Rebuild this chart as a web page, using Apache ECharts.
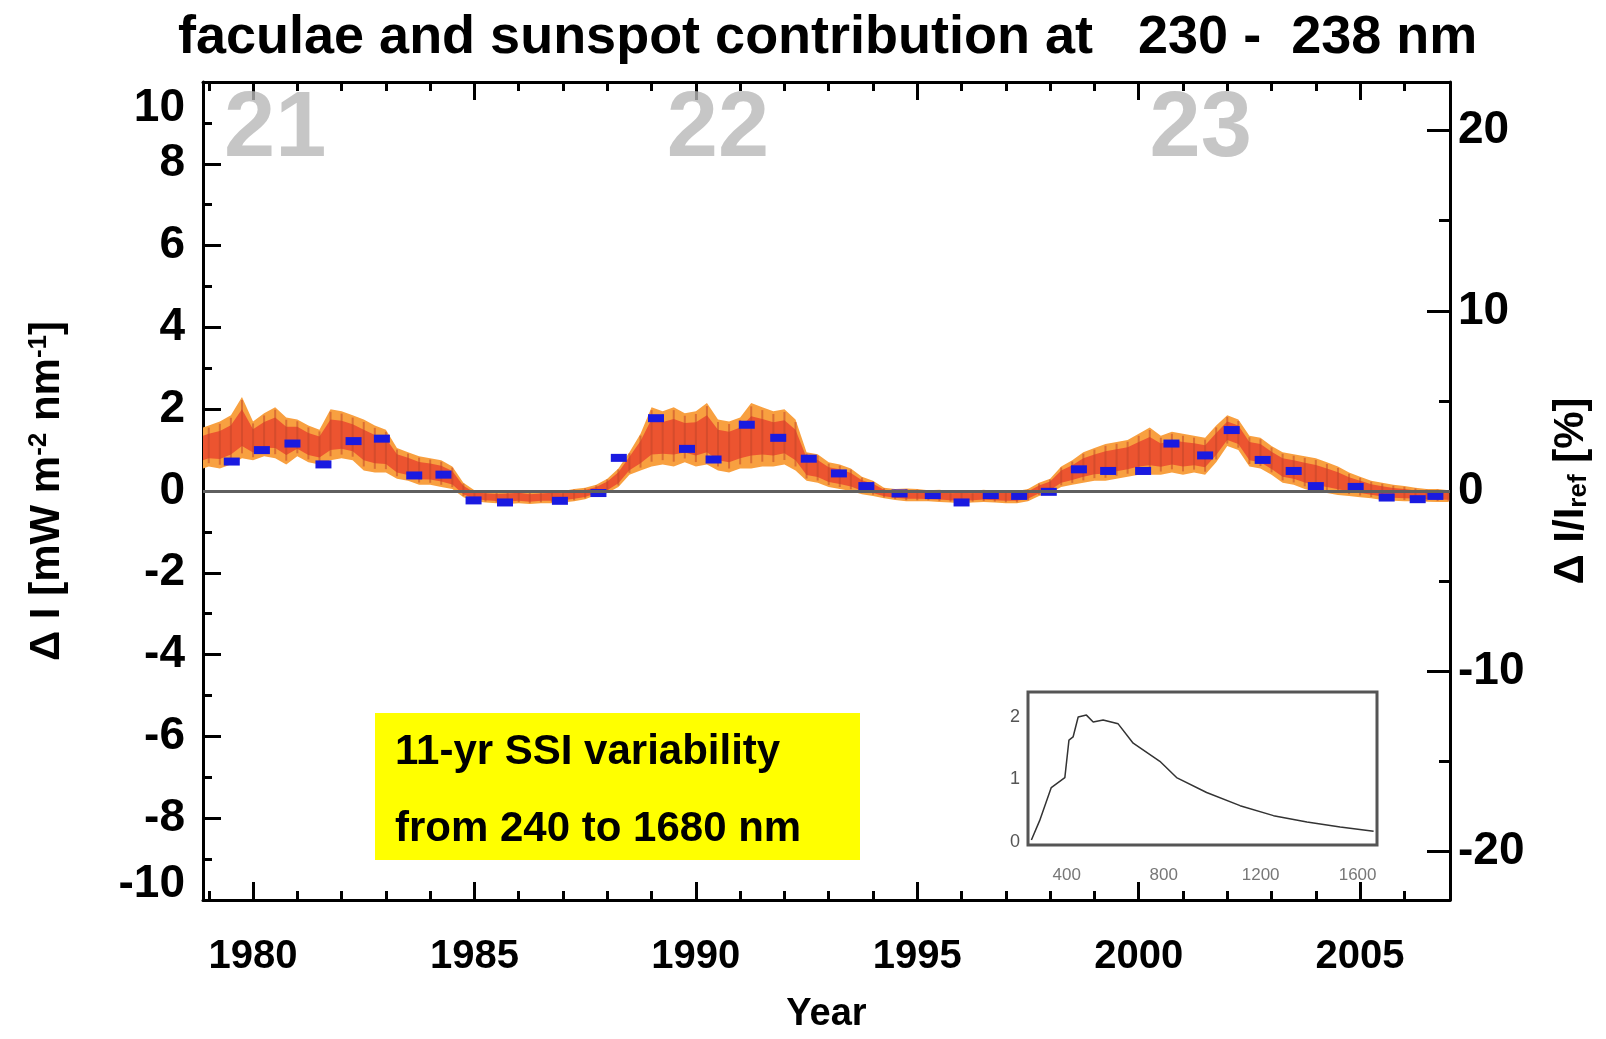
<!DOCTYPE html>
<html>
<head>
<meta charset="utf-8">
<script src="https://cdn.jsdelivr.net/npm/echarts@6/dist/echarts.min.js"></script>
<style>html,body{margin:0;padding:0;background:#fff}#c{width:1606px;height:1039px}</style>
</head>
<body>
<div id="c"></div>
<script>
// ---------- data ----------
const bandYears = [1978.87,1979.00,1979.25,1979.50,1979.75,1980.00,1980.25,1980.50,1980.75,1981.00,1981.25,1981.50,1981.75,1982.00,1982.25,1982.50,1982.75,1983.00,1983.25,1983.50,1983.75,1984.00,1984.25,1984.50,1984.75,1985.00,1985.25,1985.50,1985.75,1986.00,1986.25,1986.50,1986.75,1987.00,1987.25,1987.50,1987.75,1988.00,1988.25,1988.50,1988.75,1989.00,1989.25,1989.50,1989.75,1990.00,1990.25,1990.50,1990.75,1991.00,1991.25,1991.50,1991.75,1992.00,1992.25,1992.50,1992.75,1993.00,1993.25,1993.50,1993.75,1994.00,1994.25,1994.50,1994.75,1995.00,1995.25,1995.50,1995.75,1996.00,1996.25,1996.50,1996.75,1997.00,1997.25,1997.50,1997.75,1998.00,1998.25,1998.50,1998.75,1999.00,1999.25,1999.50,1999.75,2000.00,2000.25,2000.50,2000.75,2001.00,2001.25,2001.50,2001.75,2002.00,2002.25,2002.50,2002.75,2003.00,2003.25,2003.50,2003.75,2004.00,2004.25,2004.50,2004.75,2005.00,2005.25,2005.50,2005.75,2006.00,2006.25,2006.50,2006.75,2007.00];
const bandLow = [0.55,0.60,0.55,0.65,0.80,0.75,0.85,0.80,0.65,0.85,0.70,0.65,0.75,0.80,0.75,0.50,0.45,0.45,0.30,0.25,0.15,0.15,0.10,0.05,-0.15,-0.25,-0.28,-0.30,-0.32,-0.30,-0.32,-0.30,-0.30,-0.28,-0.25,-0.20,-0.10,-0.05,0.10,0.40,0.50,0.60,0.65,0.60,0.70,0.60,0.65,0.50,0.45,0.55,0.55,0.60,0.60,0.65,0.50,0.25,0.20,0.10,0.05,0.00,-0.08,-0.12,-0.18,-0.22,-0.25,-0.25,-0.25,-0.27,-0.28,-0.30,-0.28,-0.27,-0.28,-0.30,-0.30,-0.25,-0.12,-0.05,0.10,0.15,0.20,0.25,0.25,0.30,0.35,0.40,0.40,0.40,0.45,0.40,0.45,0.40,0.70,1.10,1.00,0.60,0.55,0.40,0.20,0.15,0.05,-0.02,-0.05,-0.10,-0.12,-0.15,-0.18,-0.22,-0.24,-0.25,-0.25,-0.26,-0.27,-0.27];
const bandHigh = [1.55,1.60,1.70,1.85,2.30,1.70,1.90,2.05,1.80,1.75,1.60,1.50,2.00,1.95,1.85,1.75,1.60,1.50,1.05,0.95,0.85,0.80,0.75,0.60,0.20,0.02,0.00,-0.02,0.00,0.02,-0.02,0.00,0.02,0.00,0.05,0.08,0.15,0.30,0.55,0.95,1.40,2.05,1.95,2.05,1.90,1.95,2.15,1.75,1.70,1.80,2.15,2.05,1.95,2.00,1.75,0.95,0.90,0.70,0.65,0.55,0.35,0.25,0.08,0.05,0.06,0.05,0.02,0.03,0.00,0.02,0.00,0.03,0.00,0.02,0.00,0.05,0.20,0.30,0.60,0.75,0.95,1.05,1.15,1.20,1.25,1.40,1.55,1.35,1.45,1.40,1.35,1.30,1.60,1.85,1.75,1.35,1.30,1.10,0.95,0.90,0.85,0.80,0.70,0.60,0.45,0.35,0.25,0.20,0.15,0.12,0.08,0.05,0.05,0.02];

const blueYears = [1979.52,1980.20,1980.89,1981.59,1982.27,1982.91,1983.64,1984.30,1984.98,1985.69,1986.93,1987.80,1988.26,1989.10,1989.80,1990.40,1991.15,1991.86,1992.55,1993.23,1993.85,1994.60,1995.35,1996.00,1996.66,1997.30,1997.97,1998.65,1999.31,2000.10,2000.74,2001.50,2002.10,2002.80,2003.50,2004.00,2004.90,2005.60,2006.30,2006.70];
const blueValues = [0.72,1.00,1.16,0.65,1.22,1.28,0.38,0.40,-0.23,-0.28,-0.24,-0.05,0.81,1.78,1.03,0.77,1.62,1.30,0.79,0.43,0.12,-0.06,-0.10,-0.28,-0.10,-0.12,-0.02,0.53,0.49,0.49,1.16,0.87,1.49,0.76,0.49,0.12,0.10,-0.16,-0.20,-0.12];

const yearTicks = [1980,1985,1990,1995,2000,2005];
const yearMinorTicks = [1979,1981,1982,1983,1984,1986,1987,1988,1989,1991,1992,1993,1994,1996,1997,1998,1999,2001,2002,2003,2004,2006];
const percentTicks = [-20,-10,0,10,20];
const percentMinorTicks = [-15,-5,5,15];

const cycleNames = ['21','22','23'];
const cycleYears = [1980.5,1990.5,2001.4];
const cycleLevel = 8.8;

const insetWavelength = [254,288,336,392,409,426,447,481,509,550,612,674,784,853,977,1115,1253,1391,1528,1666];
const insetValue = [0.03,0.34,0.87,1.03,1.63,1.68,2.00,2.03,1.92,1.95,1.89,1.58,1.29,1.03,0.79,0.58,0.42,0.32,0.24,0.17];
const insetXTicks = [400,800,1200,1600];
const insetYTicks = [0,1,2];

// ---------- chart ----------
const F = '"Liberation Sans", Arial, Helvetica, sans-serif';
const XMIN = 1978.87, XMAX = 2007.03;
const black = '#000';

function renderBand(params, api) {
  const i0 = params.dataIndex;
  if (i0 !== 0) {
    // vertical error-bar texture for each sample
    const lo = api.value(1), hi = api.value(2), s = hi - lo;
    const a = api.coord([api.value(0), hi - 0.05 * s]);
    const b = api.coord([api.value(0), lo + 0.08 * s]);
    return { type: 'line', shape: { x1: a[0], y1: a[1], x2: b[0], y2: b[1] },
      style: { stroke: '#c2452a', lineWidth: 2, opacity: 0.55 } };
  }
  const top = [], bot = [], iTop = [], iBot = [];
  for (let i = 0; i < bandYears.length; i++) {
    const s = bandHigh[i] - bandLow[i];
    top.push(api.coord([bandYears[i], bandHigh[i]]));
    bot.push(api.coord([bandYears[i], bandLow[i]]));
    iTop.push(api.coord([bandYears[i], bandHigh[i] - 0.2 * s]));
    iBot.push(api.coord([bandYears[i], bandLow[i] + 0.2 * s]));
  }
  return {
    type: 'group',
    children: [
      { type: 'polygon', shape: { points: top.concat(bot.slice().reverse()) }, style: { fill: '#f8a040' } },
      { type: 'polygon', shape: { points: iTop.concat(iBot.slice().reverse()) }, style: { fill: '#ec5430' } }
    ]
  };
}

const chart = echarts.init(document.getElementById('c'), null, { renderer: 'canvas' });
const tickStyle = { color: black, width: 3 };
const plain = v => String(v);

const option = {
  animation: false,
  backgroundColor: '#fff',
  title: {
    text: 'faculae and sunspot contribution at   230 -  238 nm',
    left: 173, top: 6,
    textStyle: { fontSize: 54, fontWeight: 'bold', fontFamily: F, color: black }
  },
  grid: [
    { left: 203, right: 156, top: 82, bottom: 137 },
    { left: 1028, top: 692, width: 349, height: 153, show: true, borderColor: '#555', borderWidth: 3, backgroundColor: '#fff', z: 5 }
  ],
  xAxis: [
    { type: 'value', gridIndex: 0, min: XMIN, max: XMAX, position: 'bottom',
      axisLine: { onZero: false, lineStyle: { color: black, width: 3 } },
      axisTick: { inside: true, length: 18, customValues: yearTicks, lineStyle: tickStyle },
      axisLabel: { customValues: yearTicks, formatter: plain, fontSize: 40, fontWeight: 'bold', color: black, margin: 37, fontFamily: F },
      splitLine: { show: false },
      name: 'Year', nameLocation: 'middle', nameGap: 96,
      nameTextStyle: { fontSize: 38, fontWeight: 'bold', color: black, fontFamily: F } },
    { type: 'value', gridIndex: 0, min: XMIN, max: XMAX, position: 'bottom',
      axisLine: { show: false, onZero: false },
      axisTick: { inside: true, length: 9, customValues: yearMinorTicks, lineStyle: tickStyle },
      axisLabel: { show: false }, splitLine: { show: false } },
    { type: 'value', gridIndex: 0, min: XMIN, max: XMAX, position: 'top',
      axisLine: { onZero: false, lineStyle: { color: black, width: 3 } },
      axisTick: { inside: true, length: 18, customValues: yearTicks, lineStyle: tickStyle },
      axisLabel: { show: false }, splitLine: { show: false } },
    { type: 'value', gridIndex: 0, min: XMIN, max: XMAX, position: 'top',
      axisLine: { show: false, onZero: false },
      axisTick: { inside: true, length: 9, customValues: yearMinorTicks, lineStyle: tickStyle },
      axisLabel: { show: false }, splitLine: { show: false } },
    { type: 'value', gridIndex: 1, min: 240, max: 1680, position: 'bottom',
      axisLine: { show: false, onZero: false },
      axisTick: { inside: true, length: 5, customValues: insetXTicks, lineStyle: { color: '#666', width: 1.5 } },
      axisLabel: { customValues: insetXTicks, formatter: plain, fontSize: 17, color: '#777', margin: 22, fontFamily: F },
      splitLine: { show: false } }
  ],
  yAxis: [
    { type: 'value', gridIndex: 0, min: -10, max: 10, interval: 2, position: 'left',
      axisLine: { onZero: false, lineStyle: { color: black, width: 3 } },
      axisTick: { inside: true, length: 18, lineStyle: tickStyle },
      minorTick: { show: true, splitNumber: 2, length: 9, lineStyle: tickStyle },
      splitLine: { show: false },
      axisLabel: {
        margin: 18, color: black, fontFamily: F, fontSize: 46, fontWeight: 'bold',
        formatter: v => v === 10 ? '{t|10}' : (v === -10 ? '{b|-10}' : '{n|' + v + '}'),
        rich: {
          n: { fontSize: 46, fontWeight: 'bold', fontFamily: F, color: black },
          t: { fontSize: 46, fontWeight: 'bold', fontFamily: F, color: black, padding: [52, 0, 0, 0] },
          b: { fontSize: 46, fontWeight: 'bold', fontFamily: F, color: black, padding: [0, 0, 32, 0] }
        }
      },
      name: '{a|Δ I [mW m}{s|-2}{a| nm}{s|-1}{a|]}',
      nameLocation: 'middle', nameRotate: 90, nameGap: 135,
      nameTextStyle: {
        fontSize: 42, fontWeight: 'bold', fontFamily: F, color: black,
        rich: {
          a: { fontSize: 42, fontWeight: 'bold', fontFamily: F, color: black },
          s: { fontSize: 26, fontWeight: 'bold', fontFamily: F, color: black, verticalAlign: 'top' }
        }
      } },
    { type: 'value', gridIndex: 0, min: -22.7, max: 22.7, position: 'right',
      axisLine: { onZero: false, lineStyle: { color: black, width: 3 } },
      axisTick: { inside: true, length: 23, customValues: percentTicks, lineStyle: tickStyle },
      axisLabel: { customValues: percentTicks, fontSize: 46, fontWeight: 'bold', color: black, margin: 8, fontFamily: F },
      splitLine: { show: false },
      name: '{a|Δ I/I}{r|ref}{a| [%]}',
      nameLocation: 'middle', nameRotate: 90, nameGap: 100,
      nameTextStyle: {
        fontSize: 42, fontWeight: 'bold', fontFamily: F, color: black,
        rich: {
          a: { fontSize: 42, fontWeight: 'bold', fontFamily: F, color: black },
          r: { fontSize: 26, fontWeight: 'bold', fontFamily: F, color: black, verticalAlign: 'bottom' }
        }
      } },
    { type: 'value', gridIndex: 0, min: -22.7, max: 22.7, position: 'right',
      axisLine: { show: false, onZero: false },
      axisTick: { inside: true, length: 11, customValues: percentMinorTicks, lineStyle: tickStyle },
      axisLabel: { show: false }, splitLine: { show: false } },
    { type: 'value', gridIndex: 1, min: -0.05, max: 2.4, position: 'left',
      axisLine: { show: false, onZero: false },
      axisTick: { inside: true, length: 5, customValues: insetYTicks, lineStyle: { color: '#666', width: 1.5 } },
      axisLabel: { customValues: insetYTicks, fontSize: 18, color: '#555', margin: 8, fontFamily: F },
      splitLine: { show: false } }
  ],
  graphic: [
    { type: 'rect', shape: { x: 375, y: 713, width: 485, height: 147 }, style: { fill: '#ffff00' }, z: 10 },
    { type: 'text', x: 395, y: 752, style: { text: '11-yr SSI variability', fontSize: 42, fontWeight: 'bold', fontFamily: F, fill: black, verticalAlign: 'middle' }, z: 11 },
    { type: 'text', x: 395, y: 829, style: { text: 'from 240 to 1680 nm', fontSize: 42, fontWeight: 'bold', fontFamily: F, fill: black, verticalAlign: 'middle' }, z: 11 }
  ],
  series: [
    { type: 'line', xAxisIndex: 0, yAxisIndex: 0, data: [], z: 1, silent: true,
      markLine: { silent: true, symbol: 'none', label: { show: false },
        lineStyle: { color: '#5f5f5f', width: 3, type: 'solid' }, data: [{ yAxis: 0 }] } },
    { type: 'custom', xAxisIndex: 0, yAxisIndex: 0, z: 2, silent: true,
      renderItem: renderBand,
      data: bandYears.map((y, i) => [y, bandLow[i], bandHigh[i]]) },
    { type: 'scatter', xAxisIndex: 0, yAxisIndex: 0, z: 3, silent: true,
      symbol: 'rect', symbolSize: [16, 8], itemStyle: { color: '#1a1ae0', opacity: 1 },
      data: blueYears.map((y, i) => [y, blueValues[i]]) },
    { type: 'scatter', xAxisIndex: 0, yAxisIndex: 0, z: 3, silent: true, symbolSize: 0,
      label: { show: true, position: 'inside', formatter: '{b}', fontSize: 92, fontWeight: 'bold', fontFamily: F, color: '#b8b8b8' },
      data: cycleNames.map((n, i) => ({ name: n, value: [cycleYears[i], cycleLevel] })) },
    { type: 'line', xAxisIndex: 4, yAxisIndex: 3, symbol: 'none', z: 6,
      lineStyle: { color: '#333', width: 1.5 },
      data: insetWavelength.map((w, i) => [w, insetValue[i]]) }
  ]
};
chart.setOption(option);
</script>
</body>
</html>
